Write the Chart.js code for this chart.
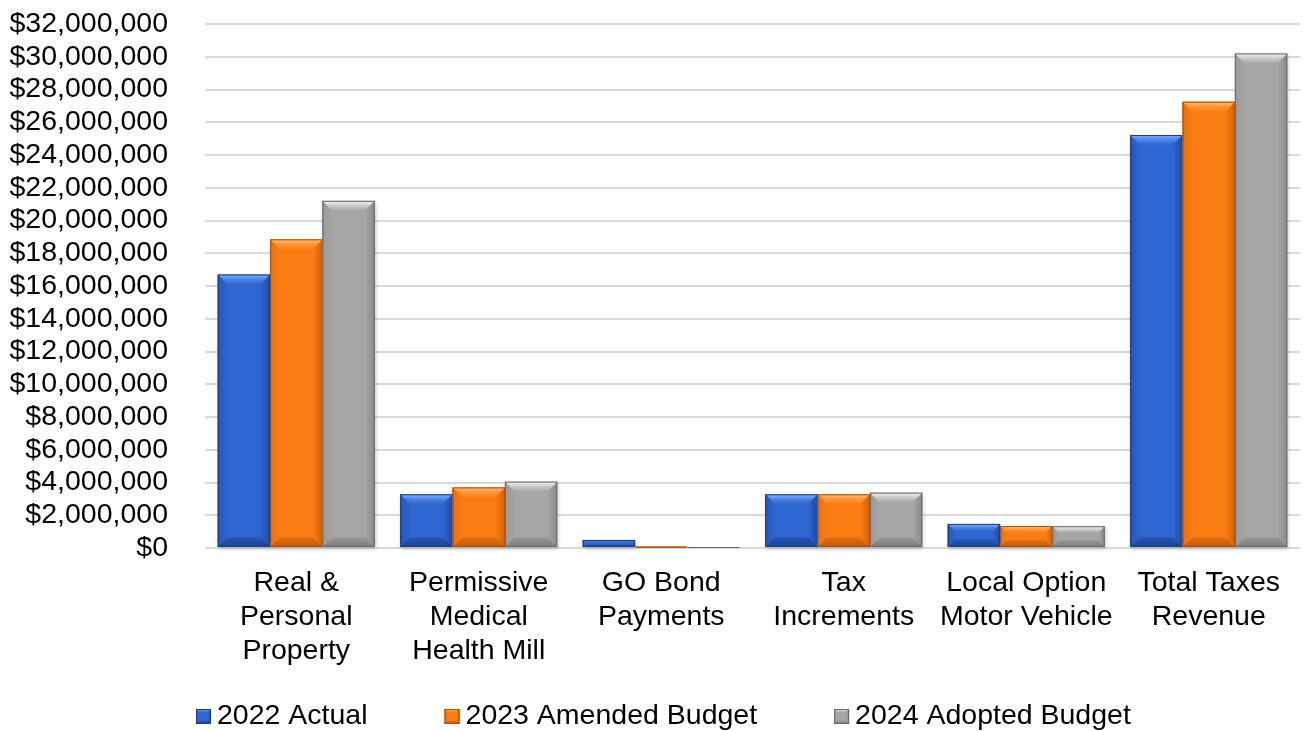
<!DOCTYPE html>
<html>
<head>
<meta charset="utf-8">
<script src="https://cdn.jsdelivr.net/npm/chart.js@4.4.1/dist/chart.umd.min.js"></script>
<style>
  html, body { margin: 0; padding: 0; background: #ffffff; overflow: hidden; }
  #wrap { width: 1307px; height: 731px; position: relative; }
  #c { display: block; }
</style>
</head>
<body>
<div id="wrap"><canvas id="c" width="1307" height="731"></canvas></div>
<script>
// Tax revenue by source, three budget years
const categories = [
  ["Real &", "Personal", "Property"],
  ["Permissive", "Medical", "Health Mill"],
  ["GO Bond", "Payments"],
  ["Tax", "Increments"],
  ["Local Option", "Motor Vehicle"],
  ["Total Taxes", "Revenue"]
];
const seriesNames = ["2022 Actual", "2023 Amended Budget", "2024 Adopted Budget"];
const actual2022  = [16700000, 3280000, 490000, 3280000, 1470000, 25220000];
const amended2023 = [18850000, 3700000,  80000, 3280000, 1340000, 27250000];
const adopted2024 = [21200000, 4050000,  60000, 3380000, 1330000, 30200000];
const yMin = 0, yMax = 32000000, yStep = 2000000;

const FONT = '"Liberation Sans", Arial, Helvetica, sans-serif';
const FONT_SIZE = 28.5;

// bevel palettes: face, highlight, left side, right side, bottom, outline
const palettes = [
  { face: '#2e66d2', light: '#86b2fa', mid: '#4a82e6', left: '#2657bb', right: '#204ba0', dark: '#1b4190', edge: '#1a3c80' },
  { face: '#fa7d14', light: '#ffbf7e', mid: '#ff9536', left: '#e8700f', right: '#d4630a', dark: '#c05706', edge: '#a84c06' },
  { face: '#a6a6a6', light: '#f6f6f6', mid: '#c8c8c8', left: '#9a9a9a', right: '#8b8b8b', dark: '#7c7c7c', edge: '#676767' }
];

function drawBevelRect(ctx, x0, top, x1, bottom, pal, bMax) {
  const w = x1 - x0, h = bottom - top;
  if (w <= 0 || h <= 0) return;
  const b = Math.max(0, Math.min(bMax, h * 0.34, w * 0.22));
  ctx.save();
  ctx.fillStyle = pal.face;
  ctx.fillRect(x0, top, w, h);
  if (b >= 1) {
    // left side
    let g = ctx.createLinearGradient(x0, 0, x0 + b, 0);
    g.addColorStop(0, pal.left); g.addColorStop(1, pal.face);
    ctx.fillStyle = g;
    ctx.beginPath();
    ctx.moveTo(x0, top); ctx.lineTo(x0 + b, top + b); ctx.lineTo(x0 + b, bottom - b); ctx.lineTo(x0, bottom);
    ctx.closePath(); ctx.fill();
    // right side
    g = ctx.createLinearGradient(x1 - b, 0, x1, 0);
    g.addColorStop(0, pal.face); g.addColorStop(1, pal.right);
    ctx.fillStyle = g;
    ctx.beginPath();
    ctx.moveTo(x1, top); ctx.lineTo(x1 - b, top + b); ctx.lineTo(x1 - b, bottom - b); ctx.lineTo(x1, bottom);
    ctx.closePath(); ctx.fill();
    // bottom
    g = ctx.createLinearGradient(0, bottom - b, 0, bottom);
    g.addColorStop(0, pal.left); g.addColorStop(1, pal.dark);
    ctx.fillStyle = g;
    ctx.beginPath();
    ctx.moveTo(x0, bottom); ctx.lineTo(x0 + b, bottom - b); ctx.lineTo(x1 - b, bottom - b); ctx.lineTo(x1, bottom);
    ctx.closePath(); ctx.fill();
    // top highlight
    g = ctx.createLinearGradient(0, top, 0, top + b);
    g.addColorStop(0, pal.light); g.addColorStop(0.5, pal.mid); g.addColorStop(1, pal.face);
    ctx.fillStyle = g;
    ctx.beginPath();
    ctx.moveTo(x0, top); ctx.lineTo(x1, top); ctx.lineTo(x1 - b, top + b); ctx.lineTo(x0 + b, top + b);
    ctx.closePath(); ctx.fill();
  }
  ctx.strokeStyle = pal.edge;
  ctx.lineWidth = 1;
  ctx.strokeRect(x0 + 0.5, top + 0.5, Math.max(0, w - 1), Math.max(0, h - 1));
  ctx.restore();
}

// Bars are positioned by the bar controller; this paints the bevelled faces on each element
const bevelBars = {
  id: 'bevelBars',
  beforeDatasetsDraw(chart) {
    const ctx = chart.ctx;
    chart.data.datasets.forEach((ds, i) => {
      chart.getDatasetMeta(i).data.forEach(el => {
        const x0 = el.x - el.width / 2, x1 = el.x + el.width / 2;
        const top = Math.min(el.y, el.base), bottom = Math.max(el.y, el.base);
        ctx.save();
        ctx.shadowColor = 'rgba(0,0,0,0.22)';
        ctx.shadowBlur = 4;
        ctx.shadowOffsetX = 1;
        ctx.shadowOffsetY = 2;
        ctx.fillStyle = '#ffffff';
        ctx.fillRect(x0, top, x1 - x0, bottom - top);
        ctx.restore();
      });
    });
  },
  afterDatasetsDraw(chart) {
    const ctx = chart.ctx;
    chart.data.datasets.forEach((ds, i) => {
      chart.getDatasetMeta(i).data.forEach(el => {
        const x0 = el.x - el.width / 2, x1 = el.x + el.width / 2;
        const top = Math.min(el.y, el.base), bottom = Math.max(el.y, el.base);
        drawBevelRect(ctx, x0, top, x1, bottom, palettes[i], 10);
      });
    });
  }
};

// Legend row under the axis labels
const bevelLegend = {
  id: 'bevelLegend',
  afterDraw(chart) {
    const ctx = chart.ctx;
    ctx.save();
    ctx.font = FONT_SIZE + 'px ' + FONT;
    ctx.textBaseline = 'middle';
    ctx.textAlign = 'left';
    ctx.fillStyle = '#000000';
    let x = 196;
    const boxY = 709, box = 15, gapText = 6, gapItem = 77;
    chart.data.datasets.forEach((ds, i) => {
      drawBevelRect(ctx, x, boxY, x + box, boxY + box, palettes[i], 3.5);
      const tx = x + box + gapText;
      ctx.fillStyle = '#000000';
      ctx.fillText(ds.label, tx, 716);
      x = tx + ctx.measureText(ds.label).width + gapItem;
    });
    ctx.restore();
  }
};

const seriesValues = [actual2022, amended2023, adopted2024];

new Chart(document.getElementById('c'), {
  type: 'bar',
  data: {
    labels: categories,
    datasets: seriesValues.map((vals, i) => ({
      label: seriesNames[i],
      data: vals,
      backgroundColor: palettes[i].face,
      borderWidth: 0,
      categoryPercentage: 0.86,
      barPercentage: 1.0
    }))
  },
  options: {
    responsive: false,
    maintainAspectRatio: false,
    animation: false,
    devicePixelRatio: 1,
    layout: { padding: { top: 24, right: 7, left: 0, bottom: 53 } },
    plugins: {
      legend: { display: false },
      tooltip: { enabled: false }
    },
    scales: {
      x: {
        grid: { display: false, drawTicks: false },
        border: { display: false },
        ticks: {
          color: '#000000',
          font: { family: FONT, size: FONT_SIZE, lineHeight: 1.2 },
          padding: 18,
          maxRotation: 0,
          autoSkip: false
        },
        afterFit(scale) { scale.height = 130; scale.paddingLeft = 0; scale.paddingRight = 0; }
      },
      y: {
        min: yMin,
        max: yMax,
        grid: { color: '#d9d9d9', lineWidth: 2, drawTicks: false },
        border: { display: false },
        ticks: {
          stepSize: yStep,
          autoSkip: false,
          color: '#000000',
          font: { family: FONT, size: FONT_SIZE, lineHeight: 1.0 },
          padding: 37,
          callback: v => '$' + Number(v).toLocaleString('en-US')
        },
        afterFit(scale) { scale.width = 205; scale.paddingTop = 0; scale.paddingBottom = 0; }
      }
    }
  },
  plugins: [bevelBars, bevelLegend]
});
</script>
</body>
</html>
